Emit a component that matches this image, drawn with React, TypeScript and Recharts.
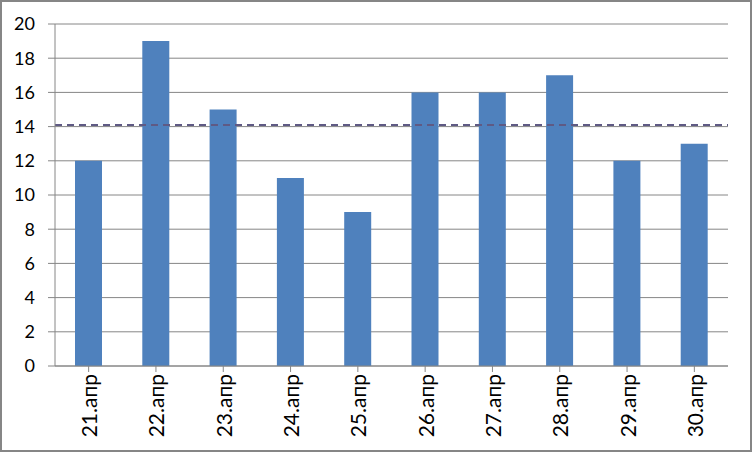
import React from 'react';
import { BarChart, Bar, XAxis, YAxis, CartesianGrid, ReferenceLine } from 'recharts';

const categories = ['21.апр', '22.апр', '23.апр', '24.апр', '25.апр', '26.апр', '27.апр', '28.апр', '29.апр', '30.апр'];
const values = [12, 19, 15, 11, 9, 16, 16, 17, 12, 13];
const yTicks = [0, 2, 4, 6, 8, 10, 12, 14, 16, 18, 20];
const averageLevel = 14.1;

const data = categories.map((c, i) => ({ name: c, value: values[i] }));

const FONT = "Lato, 'Open Sans', 'Liberation Sans', sans-serif";

const XTick = (props: any) => {
  const { x, y, payload } = props;
  return (
    <text
      x={x}
      y={y}
      transform={`rotate(-90, ${x}, ${y})`}
      textAnchor="end"
      dominantBaseline="central"
      fill="#000"
      fontSize={21}
      fontFamily={FONT}
    >
      {payload.value}
    </text>
  );
};

export default function App() {
  return (
    <div
      style={{
        position: 'absolute',
        left: 0,
        top: 0,
        width: 752,
        height: 452,
        boxSizing: 'border-box',
        border: '2px solid #868686',
        background: '#fff',
      }}
    >
      <div style={{ position: 'absolute', left: -2, top: -2 }}>
        <BarChart
          width={752}
          height={452}
          data={data}
          margin={{ top: 24, right: 24, bottom: 0, left: 0 }}
          barSize={27}
        >
          <CartesianGrid vertical={false} stroke="#868686" strokeWidth={1} />
          <XAxis
            dataKey="name"
            interval={0}
            height={86}
            stroke="#868686"
            tickLine={{ stroke: '#868686' }}
            tickSize={6}
            tick={<XTick />}
            tickMargin={2}
            scale="band"
          />
          <YAxis
            width={55}
            domain={[0, 20]}
            ticks={yTicks}
            interval={0}
            stroke="#868686"
            tickSize={7}
            tickMargin={13}
            tick={{ fill: '#000', fontSize: 18, fontFamily: FONT }}
          />
          <Bar dataKey="value" fill="#4F81BD" isAnimationActive={false} />
          <ReferenceLine y={averageLevel} stroke="#5F5A84" strokeWidth={2} strokeDasharray="7 5" />
        </BarChart>
      </div>
    </div>
  );
}
